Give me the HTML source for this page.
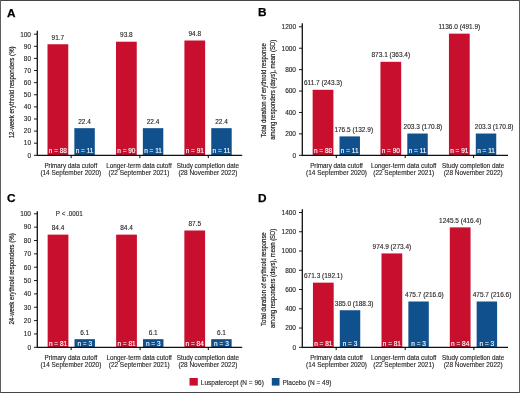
<!DOCTYPE html>
<html><head><meta charset="utf-8"><style>
html,body{margin:0;padding:0;background:#fff;width:520px;height:393px;overflow:hidden;}
svg{display:block;will-change:transform;}
text{font-family:"Liberation Sans", sans-serif;}
</style></head><body>
<svg width="520" height="393" viewBox="0 0 520 393" font-family="Liberation Sans, sans-serif">
<rect x="0" y="0" width="520" height="393" fill="#fff"/>
<text x="7" y="16.6" font-size="11.8" font-weight="bold" fill="#000" stroke="#000" stroke-width="0.25">A</text>
<rect x="47.5" y="44.25" width="20.75" height="111.05" fill="#c8102e"/>
<rect x="74.35" y="128.17" width="20.45" height="27.13" fill="#0f508d"/>
<text x="57.88" y="39.75" font-size="6.5" text-anchor="middle" fill="#231f20" stroke="#231f20" stroke-width="0.12">91.7</text>
<text x="84.58" y="123.67" font-size="6.5" text-anchor="middle" fill="#231f20" stroke="#231f20" stroke-width="0.12">22.4</text>
<text x="57.88" y="153" font-size="6.5" text-anchor="middle" fill="#fff" stroke="#fff" stroke-width="0.12">n = 88</text>
<text x="84.58" y="153" font-size="6.5" text-anchor="middle" fill="#fff" stroke="#fff" stroke-width="0.12">n = 11</text>
<rect x="116" y="41.71" width="20.75" height="113.59" fill="#c8102e"/>
<rect x="142.85" y="128.17" width="20.45" height="27.13" fill="#0f508d"/>
<text x="126.38" y="37.21" font-size="6.5" text-anchor="middle" fill="#231f20" stroke="#231f20" stroke-width="0.12">93.8</text>
<text x="153.07" y="123.67" font-size="6.5" text-anchor="middle" fill="#231f20" stroke="#231f20" stroke-width="0.12">22.4</text>
<text x="126.38" y="153" font-size="6.5" text-anchor="middle" fill="#fff" stroke="#fff" stroke-width="0.12">n = 90</text>
<text x="153.07" y="153" font-size="6.5" text-anchor="middle" fill="#fff" stroke="#fff" stroke-width="0.12">n = 11</text>
<rect x="184.4" y="40.5" width="20.75" height="114.8" fill="#c8102e"/>
<rect x="211.25" y="128.17" width="20.45" height="27.13" fill="#0f508d"/>
<text x="194.78" y="36" font-size="6.5" text-anchor="middle" fill="#231f20" stroke="#231f20" stroke-width="0.12">94.8</text>
<text x="221.48" y="123.67" font-size="6.5" text-anchor="middle" fill="#231f20" stroke="#231f20" stroke-width="0.12">22.4</text>
<text x="194.78" y="153" font-size="6.5" text-anchor="middle" fill="#fff" stroke="#fff" stroke-width="0.12">n = 91</text>
<text x="221.48" y="153" font-size="6.5" text-anchor="middle" fill="#fff" stroke="#fff" stroke-width="0.12">n = 11</text>
<path d="M37.3 30.8V155.3H242.2" fill="none" stroke="#111" stroke-width="1.3"/>
<path d="M34 155.3H37" stroke="#000" stroke-width="0.9"/>
<text x="31" y="157.6" font-size="6.5" text-anchor="end" fill="#231f20" stroke="#231f20" stroke-width="0.12">0</text>
<path d="M34 143.19H37" stroke="#000" stroke-width="0.9"/>
<text x="31" y="145.49" font-size="6.5" text-anchor="end" fill="#231f20" stroke="#231f20" stroke-width="0.12">10</text>
<path d="M34 131.08H37" stroke="#000" stroke-width="0.9"/>
<text x="31" y="133.38" font-size="6.5" text-anchor="end" fill="#231f20" stroke="#231f20" stroke-width="0.12">20</text>
<path d="M34 118.97H37" stroke="#000" stroke-width="0.9"/>
<text x="31" y="121.27" font-size="6.5" text-anchor="end" fill="#231f20" stroke="#231f20" stroke-width="0.12">30</text>
<path d="M34 106.86H37" stroke="#000" stroke-width="0.9"/>
<text x="31" y="109.16" font-size="6.5" text-anchor="end" fill="#231f20" stroke="#231f20" stroke-width="0.12">40</text>
<path d="M34 94.75H37" stroke="#000" stroke-width="0.9"/>
<text x="31" y="97.05" font-size="6.5" text-anchor="end" fill="#231f20" stroke="#231f20" stroke-width="0.12">50</text>
<path d="M34 82.64H37" stroke="#000" stroke-width="0.9"/>
<text x="31" y="84.94" font-size="6.5" text-anchor="end" fill="#231f20" stroke="#231f20" stroke-width="0.12">60</text>
<path d="M34 70.53H37" stroke="#000" stroke-width="0.9"/>
<text x="31" y="72.83" font-size="6.5" text-anchor="end" fill="#231f20" stroke="#231f20" stroke-width="0.12">70</text>
<path d="M34 58.42H37" stroke="#000" stroke-width="0.9"/>
<text x="31" y="60.72" font-size="6.5" text-anchor="end" fill="#231f20" stroke="#231f20" stroke-width="0.12">80</text>
<path d="M34 46.31H37" stroke="#000" stroke-width="0.9"/>
<text x="31" y="48.61" font-size="6.5" text-anchor="end" fill="#231f20" stroke="#231f20" stroke-width="0.12">90</text>
<path d="M34 34.2H37" stroke="#000" stroke-width="0.9"/>
<text x="31" y="36.5" font-size="6.5" text-anchor="end" fill="#231f20" stroke="#231f20" stroke-width="0.12">100</text>
<path d="M71.15 155.3V158.1" stroke="#000" stroke-width="1"/>
<path d="M139.9 155.3V158.1" stroke="#000" stroke-width="1"/>
<path d="M208.3 155.3V158.1" stroke="#000" stroke-width="1"/>
<text x="70.8" y="167.9" font-size="6.3" text-anchor="middle" fill="#231f20" stroke="#231f20" stroke-width="0.12">Primary data cutoff</text>
<text x="70.8" y="175.4" font-size="6.45" text-anchor="middle" fill="#231f20" stroke="#231f20" stroke-width="0.12">(14 September 2020)</text>
<text x="139" y="167.9" font-size="6.3" text-anchor="middle" fill="#231f20" stroke="#231f20" stroke-width="0.12">Longer-term data cutoff</text>
<text x="139" y="175.4" font-size="6.45" text-anchor="middle" fill="#231f20" stroke="#231f20" stroke-width="0.12">(22 September 2021)</text>
<text x="207.9" y="167.9" font-size="6.3" text-anchor="middle" fill="#231f20" stroke="#231f20" stroke-width="0.12">Study completion date</text>
<text x="207.9" y="175.4" font-size="6.45" text-anchor="middle" fill="#231f20" stroke="#231f20" stroke-width="0.12">(28 November 2022)</text>
<text transform="translate(13.8 92.35) rotate(-90)" x="0" y="0" font-size="7.8" text-anchor="middle" fill="#231f20" stroke="#231f20" stroke-width="0.2" textLength="91.9" lengthAdjust="spacingAndGlyphs">12-week erythroid responders (%)</text>
<text x="258" y="16.4" font-size="11.8" font-weight="bold" fill="#000" stroke="#000" stroke-width="0.25">B</text>
<rect x="312.65" y="89.8" width="20.75" height="65.5" fill="#c8102e"/>
<rect x="339.5" y="136.4" width="20.45" height="18.9" fill="#0f508d"/>
<text x="323.03" y="85.3" font-size="6.5" text-anchor="middle" fill="#231f20" stroke="#231f20" stroke-width="0.12">611.7 (243.3)</text>
<text x="334.4" y="131.9" font-size="6.5" text-anchor="start" fill="#231f20" stroke="#231f20" stroke-width="0.12">176.5 (132.9)</text>
<text x="323.03" y="153" font-size="6.5" text-anchor="middle" fill="#fff" stroke="#fff" stroke-width="0.12">n = 88</text>
<text x="349.73" y="153" font-size="6.5" text-anchor="middle" fill="#fff" stroke="#fff" stroke-width="0.12">n = 11</text>
<rect x="380.45" y="61.81" width="20.75" height="93.49" fill="#c8102e"/>
<rect x="407.3" y="133.53" width="20.45" height="21.77" fill="#0f508d"/>
<text x="390.83" y="57.31" font-size="6.5" text-anchor="middle" fill="#231f20" stroke="#231f20" stroke-width="0.12">873.1 (363.4)</text>
<text x="403.6" y="129.03" font-size="6.5" text-anchor="start" fill="#231f20" stroke="#231f20" stroke-width="0.12">203.3 (170.8)</text>
<text x="390.83" y="153" font-size="6.5" text-anchor="middle" fill="#fff" stroke="#fff" stroke-width="0.12">n = 90</text>
<text x="417.52" y="153" font-size="6.5" text-anchor="middle" fill="#fff" stroke="#fff" stroke-width="0.12">n = 11</text>
<rect x="448.95" y="33.65" width="20.75" height="121.65" fill="#c8102e"/>
<rect x="475.8" y="133.53" width="20.45" height="21.77" fill="#0f508d"/>
<text x="459.33" y="29.15" font-size="6.5" text-anchor="middle" fill="#231f20" stroke="#231f20" stroke-width="0.12">1136.0 (491.9)</text>
<text x="474.8" y="129.03" font-size="6.5" text-anchor="start" fill="#231f20" stroke="#231f20" stroke-width="0.12">203.3 (170.8)</text>
<text x="459.33" y="153" font-size="6.5" text-anchor="middle" fill="#fff" stroke="#fff" stroke-width="0.12">n = 91</text>
<text x="486.02" y="153" font-size="6.5" text-anchor="middle" fill="#fff" stroke="#fff" stroke-width="0.12">n = 11</text>
<path d="M302.3 23.2V155.3H508" fill="none" stroke="#111" stroke-width="1.3"/>
<path d="M299 155.3H302" stroke="#000" stroke-width="0.9"/>
<text x="296" y="157.6" font-size="6.5" text-anchor="end" fill="#231f20" stroke="#231f20" stroke-width="0.12">0</text>
<path d="M299 133.88H302" stroke="#000" stroke-width="0.9"/>
<text x="296" y="136.18" font-size="6.5" text-anchor="end" fill="#231f20" stroke="#231f20" stroke-width="0.12">200</text>
<path d="M299 112.47H302" stroke="#000" stroke-width="0.9"/>
<text x="296" y="114.77" font-size="6.5" text-anchor="end" fill="#231f20" stroke="#231f20" stroke-width="0.12">400</text>
<path d="M299 91.05H302" stroke="#000" stroke-width="0.9"/>
<text x="296" y="93.35" font-size="6.5" text-anchor="end" fill="#231f20" stroke="#231f20" stroke-width="0.12">600</text>
<path d="M299 69.63H302" stroke="#000" stroke-width="0.9"/>
<text x="296" y="71.93" font-size="6.5" text-anchor="end" fill="#231f20" stroke="#231f20" stroke-width="0.12">800</text>
<path d="M299 48.22H302" stroke="#000" stroke-width="0.9"/>
<text x="296" y="50.52" font-size="6.5" text-anchor="end" fill="#231f20" stroke="#231f20" stroke-width="0.12">1000</text>
<path d="M299 26.8H302" stroke="#000" stroke-width="0.9"/>
<text x="296" y="29.1" font-size="6.5" text-anchor="end" fill="#231f20" stroke="#231f20" stroke-width="0.12">1200</text>
<path d="M336.3 155.3V158.1" stroke="#000" stroke-width="1"/>
<path d="M405.2 155.3V158.1" stroke="#000" stroke-width="1"/>
<path d="M473.6 155.3V158.1" stroke="#000" stroke-width="1"/>
<text x="336.5" y="167.9" font-size="6.3" text-anchor="middle" fill="#231f20" stroke="#231f20" stroke-width="0.12">Primary data cutoff</text>
<text x="336.5" y="175.4" font-size="6.45" text-anchor="middle" fill="#231f20" stroke="#231f20" stroke-width="0.12">(14 September 2020)</text>
<text x="403.7" y="167.9" font-size="6.3" text-anchor="middle" fill="#231f20" stroke="#231f20" stroke-width="0.12">Longer-term data cutoff</text>
<text x="403.7" y="175.4" font-size="6.45" text-anchor="middle" fill="#231f20" stroke="#231f20" stroke-width="0.12">(22 September 2021)</text>
<text x="473.2" y="167.9" font-size="6.3" text-anchor="middle" fill="#231f20" stroke="#231f20" stroke-width="0.12">Study completion date</text>
<text x="473.2" y="175.4" font-size="6.45" text-anchor="middle" fill="#231f20" stroke="#231f20" stroke-width="0.12">(28 November 2022)</text>
<text transform="translate(265.6 90.35) rotate(-90)" x="0" y="0" font-size="7.8" text-anchor="middle" fill="#231f20" stroke="#231f20" stroke-width="0.2" textLength="94.3" lengthAdjust="spacingAndGlyphs">Total duration of erythroid response</text>
<text transform="translate(274.8 89.75) rotate(-90)" x="0" y="0" font-size="7.8" text-anchor="middle" fill="#231f20" stroke="#231f20" stroke-width="0.2" textLength="100.1" lengthAdjust="spacingAndGlyphs">among responders (days), mean (SD)</text>
<text x="7" y="202.1" font-size="11.8" font-weight="bold" fill="#000" stroke="#000" stroke-width="0.25">C</text>
<rect x="47.65" y="234.63" width="20.75" height="112.67" fill="#c8102e"/>
<rect x="74.5" y="339.16" width="20.45" height="8.14" fill="#0f508d"/>
<text x="58.02" y="230.13" font-size="6.5" text-anchor="middle" fill="#231f20" stroke="#231f20" stroke-width="0.12">84.4</text>
<text x="84.72" y="334.66" font-size="6.5" text-anchor="middle" fill="#231f20" stroke="#231f20" stroke-width="0.12">6.1</text>
<text x="58.02" y="345.7" font-size="6.5" text-anchor="middle" fill="#fff" stroke="#fff" stroke-width="0.12">n = 81</text>
<text x="84.72" y="345.7" font-size="6.5" text-anchor="middle" fill="#fff" stroke="#fff" stroke-width="0.12">n = 3</text>
<rect x="116.15" y="234.63" width="20.75" height="112.67" fill="#c8102e"/>
<rect x="143" y="339.16" width="20.45" height="8.14" fill="#0f508d"/>
<text x="126.53" y="230.13" font-size="6.5" text-anchor="middle" fill="#231f20" stroke="#231f20" stroke-width="0.12">84.4</text>
<text x="153.23" y="334.66" font-size="6.5" text-anchor="middle" fill="#231f20" stroke="#231f20" stroke-width="0.12">6.1</text>
<text x="126.53" y="345.7" font-size="6.5" text-anchor="middle" fill="#fff" stroke="#fff" stroke-width="0.12">n = 81</text>
<text x="153.23" y="345.7" font-size="6.5" text-anchor="middle" fill="#fff" stroke="#fff" stroke-width="0.12">n = 3</text>
<rect x="184.35" y="230.49" width="20.75" height="116.81" fill="#c8102e"/>
<rect x="211.2" y="339.16" width="20.45" height="8.14" fill="#0f508d"/>
<text x="194.72" y="225.99" font-size="6.5" text-anchor="middle" fill="#231f20" stroke="#231f20" stroke-width="0.12">87.5</text>
<text x="221.43" y="334.66" font-size="6.5" text-anchor="middle" fill="#231f20" stroke="#231f20" stroke-width="0.12">6.1</text>
<text x="194.72" y="345.7" font-size="6.5" text-anchor="middle" fill="#fff" stroke="#fff" stroke-width="0.12">n = 84</text>
<text x="221.43" y="345.7" font-size="6.5" text-anchor="middle" fill="#fff" stroke="#fff" stroke-width="0.12">n = 3</text>
<path d="M37.3 211.2V347.3H242.2" fill="none" stroke="#111" stroke-width="1.3"/>
<path d="M34 347.3H37" stroke="#000" stroke-width="0.9"/>
<text x="31" y="349.6" font-size="6.5" text-anchor="end" fill="#231f20" stroke="#231f20" stroke-width="0.12">0</text>
<path d="M34 333.95H37" stroke="#000" stroke-width="0.9"/>
<text x="31" y="336.25" font-size="6.5" text-anchor="end" fill="#231f20" stroke="#231f20" stroke-width="0.12">10</text>
<path d="M34 320.6H37" stroke="#000" stroke-width="0.9"/>
<text x="31" y="322.9" font-size="6.5" text-anchor="end" fill="#231f20" stroke="#231f20" stroke-width="0.12">20</text>
<path d="M34 307.25H37" stroke="#000" stroke-width="0.9"/>
<text x="31" y="309.55" font-size="6.5" text-anchor="end" fill="#231f20" stroke="#231f20" stroke-width="0.12">30</text>
<path d="M34 293.9H37" stroke="#000" stroke-width="0.9"/>
<text x="31" y="296.2" font-size="6.5" text-anchor="end" fill="#231f20" stroke="#231f20" stroke-width="0.12">40</text>
<path d="M34 280.55H37" stroke="#000" stroke-width="0.9"/>
<text x="31" y="282.85" font-size="6.5" text-anchor="end" fill="#231f20" stroke="#231f20" stroke-width="0.12">50</text>
<path d="M34 267.2H37" stroke="#000" stroke-width="0.9"/>
<text x="31" y="269.5" font-size="6.5" text-anchor="end" fill="#231f20" stroke="#231f20" stroke-width="0.12">60</text>
<path d="M34 253.85H37" stroke="#000" stroke-width="0.9"/>
<text x="31" y="256.15" font-size="6.5" text-anchor="end" fill="#231f20" stroke="#231f20" stroke-width="0.12">70</text>
<path d="M34 240.5H37" stroke="#000" stroke-width="0.9"/>
<text x="31" y="242.8" font-size="6.5" text-anchor="end" fill="#231f20" stroke="#231f20" stroke-width="0.12">80</text>
<path d="M34 227.15H37" stroke="#000" stroke-width="0.9"/>
<text x="31" y="229.45" font-size="6.5" text-anchor="end" fill="#231f20" stroke="#231f20" stroke-width="0.12">90</text>
<path d="M34 213.8H37" stroke="#000" stroke-width="0.9"/>
<text x="31" y="216.1" font-size="6.5" text-anchor="end" fill="#231f20" stroke="#231f20" stroke-width="0.12">100</text>
<path d="M71.15 347.3V350.1" stroke="#000" stroke-width="1"/>
<path d="M140.1 347.3V350.1" stroke="#000" stroke-width="1"/>
<path d="M208.3 347.3V350.1" stroke="#000" stroke-width="1"/>
<text x="70.9" y="359.9" font-size="6.3" text-anchor="middle" fill="#231f20" stroke="#231f20" stroke-width="0.12">Primary data cutoff</text>
<text x="70.9" y="367.4" font-size="6.45" text-anchor="middle" fill="#231f20" stroke="#231f20" stroke-width="0.12">(14 September 2020)</text>
<text x="139.2" y="359.9" font-size="6.3" text-anchor="middle" fill="#231f20" stroke="#231f20" stroke-width="0.12">Longer-term data cutoff</text>
<text x="139.2" y="367.4" font-size="6.45" text-anchor="middle" fill="#231f20" stroke="#231f20" stroke-width="0.12">(22 September 2021)</text>
<text x="207.9" y="359.9" font-size="6.3" text-anchor="middle" fill="#231f20" stroke="#231f20" stroke-width="0.12">Study completion date</text>
<text x="207.9" y="367.4" font-size="6.45" text-anchor="middle" fill="#231f20" stroke="#231f20" stroke-width="0.12">(28 November 2022)</text>
<text transform="translate(13.8 278.9) rotate(-90)" x="0" y="0" font-size="7.8" text-anchor="middle" fill="#231f20" stroke="#231f20" stroke-width="0.2" textLength="91.3" lengthAdjust="spacingAndGlyphs">24-week erythroid responders (%)</text>
<text x="55.8" y="216.2" font-size="6.3" fill="#231f20" stroke="#231f20" stroke-width="0.12">P &lt; .0001</text>
<text x="258" y="202" font-size="11.8" font-weight="bold" fill="#000" stroke="#000" stroke-width="0.25">D</text>
<rect x="312.95" y="282.66" width="20.75" height="64.64" fill="#c8102e"/>
<rect x="339.8" y="310.23" width="20.45" height="37.07" fill="#0f508d"/>
<text x="323.33" y="278.16" font-size="6.5" text-anchor="middle" fill="#231f20" stroke="#231f20" stroke-width="0.12">671.3 (192.1)</text>
<text x="334.8" y="305.73" font-size="6.5" text-anchor="start" fill="#231f20" stroke="#231f20" stroke-width="0.12">385.0 (188.3)</text>
<text x="323.33" y="345.7" font-size="6.5" text-anchor="middle" fill="#fff" stroke="#fff" stroke-width="0.12">n = 81</text>
<text x="350.02" y="345.7" font-size="6.5" text-anchor="middle" fill="#fff" stroke="#fff" stroke-width="0.12">n = 3</text>
<rect x="381.5" y="253.43" width="20.75" height="93.87" fill="#c8102e"/>
<rect x="408.35" y="301.5" width="20.45" height="45.8" fill="#0f508d"/>
<text x="391.88" y="248.93" font-size="6.5" text-anchor="middle" fill="#231f20" stroke="#231f20" stroke-width="0.12">974.9 (273.4)</text>
<text x="405.1" y="297" font-size="6.5" text-anchor="start" fill="#231f20" stroke="#231f20" stroke-width="0.12">475.7 (216.6)</text>
<text x="391.88" y="345.7" font-size="6.5" text-anchor="middle" fill="#fff" stroke="#fff" stroke-width="0.12">n = 81</text>
<text x="418.57" y="345.7" font-size="6.5" text-anchor="middle" fill="#fff" stroke="#fff" stroke-width="0.12">n = 3</text>
<rect x="449.8" y="227.38" width="20.75" height="119.92" fill="#c8102e"/>
<rect x="476.65" y="301.5" width="20.45" height="45.8" fill="#0f508d"/>
<text x="460.18" y="222.88" font-size="6.5" text-anchor="middle" fill="#231f20" stroke="#231f20" stroke-width="0.12">1245.5 (416.4)</text>
<text x="472.7" y="297" font-size="6.5" text-anchor="start" fill="#231f20" stroke="#231f20" stroke-width="0.12">475.7 (216.6)</text>
<text x="460.18" y="345.7" font-size="6.5" text-anchor="middle" fill="#fff" stroke="#fff" stroke-width="0.12">n = 84</text>
<text x="486.88" y="345.7" font-size="6.5" text-anchor="middle" fill="#fff" stroke="#fff" stroke-width="0.12">n = 3</text>
<path d="M302.3 209.2V347.3H508" fill="none" stroke="#111" stroke-width="1.3"/>
<path d="M299 347.3H302" stroke="#000" stroke-width="0.9"/>
<text x="296" y="349.6" font-size="6.5" text-anchor="end" fill="#231f20" stroke="#231f20" stroke-width="0.12">0</text>
<path d="M299 328.04H302" stroke="#000" stroke-width="0.9"/>
<text x="296" y="330.34" font-size="6.5" text-anchor="end" fill="#231f20" stroke="#231f20" stroke-width="0.12">200</text>
<path d="M299 308.79H302" stroke="#000" stroke-width="0.9"/>
<text x="296" y="311.09" font-size="6.5" text-anchor="end" fill="#231f20" stroke="#231f20" stroke-width="0.12">400</text>
<path d="M299 289.53H302" stroke="#000" stroke-width="0.9"/>
<text x="296" y="291.83" font-size="6.5" text-anchor="end" fill="#231f20" stroke="#231f20" stroke-width="0.12">600</text>
<path d="M299 270.27H302" stroke="#000" stroke-width="0.9"/>
<text x="296" y="272.57" font-size="6.5" text-anchor="end" fill="#231f20" stroke="#231f20" stroke-width="0.12">800</text>
<path d="M299 251.01H302" stroke="#000" stroke-width="0.9"/>
<text x="296" y="253.31" font-size="6.5" text-anchor="end" fill="#231f20" stroke="#231f20" stroke-width="0.12">1000</text>
<path d="M299 231.76H302" stroke="#000" stroke-width="0.9"/>
<text x="296" y="234.06" font-size="6.5" text-anchor="end" fill="#231f20" stroke="#231f20" stroke-width="0.12">1200</text>
<path d="M299 212.5H302" stroke="#000" stroke-width="0.9"/>
<text x="296" y="214.8" font-size="6.5" text-anchor="end" fill="#231f20" stroke="#231f20" stroke-width="0.12">1400</text>
<path d="M336.2 347.3V350.1" stroke="#000" stroke-width="1"/>
<path d="M405.2 347.3V350.1" stroke="#000" stroke-width="1"/>
<path d="M473.9 347.3V350.1" stroke="#000" stroke-width="1"/>
<text x="336.5" y="359.9" font-size="6.3" text-anchor="middle" fill="#231f20" stroke="#231f20" stroke-width="0.12">Primary data cutoff</text>
<text x="336.5" y="367.4" font-size="6.45" text-anchor="middle" fill="#231f20" stroke="#231f20" stroke-width="0.12">(14 September 2020)</text>
<text x="403.7" y="359.9" font-size="6.3" text-anchor="middle" fill="#231f20" stroke="#231f20" stroke-width="0.12">Longer-term data cutoff</text>
<text x="403.7" y="367.4" font-size="6.45" text-anchor="middle" fill="#231f20" stroke="#231f20" stroke-width="0.12">(22 September 2021)</text>
<text x="473.2" y="359.9" font-size="6.3" text-anchor="middle" fill="#231f20" stroke="#231f20" stroke-width="0.12">Study completion date</text>
<text x="473.2" y="367.4" font-size="6.45" text-anchor="middle" fill="#231f20" stroke="#231f20" stroke-width="0.12">(28 November 2022)</text>
<text transform="translate(265.6 279.1) rotate(-90)" x="0" y="0" font-size="7.8" text-anchor="middle" fill="#231f20" stroke="#231f20" stroke-width="0.2" textLength="93.6" lengthAdjust="spacingAndGlyphs">Total duration of erythroid response</text>
<text transform="translate(274.8 278.35) rotate(-90)" x="0" y="0" font-size="7.8" text-anchor="middle" fill="#231f20" stroke="#231f20" stroke-width="0.2" textLength="99.3" lengthAdjust="spacingAndGlyphs">among responders (days), mean (SD)</text>
<rect x="189.5" y="378" width="8.3" height="7.6" fill="#c8102e"/>
<text x="200.8" y="384.5" font-size="6.5" fill="#231f20" stroke="#231f20" stroke-width="0.12">Luspatercept (N = 96)</text>
<rect x="271.8" y="378" width="7.7" height="7.6" fill="#0f508d"/>
<text x="282.5" y="384.5" font-size="6.5" fill="#231f20" stroke="#231f20" stroke-width="0.12">Placebo (N = 49)</text>
<rect x="0" y="0" width="520" height="1" fill="#444"/><rect x="0" y="392" width="520" height="1" fill="#444"/><rect x="0" y="0" width="1" height="393" fill="#5e5e5e"/><rect x="519" y="0" width="1" height="393" fill="#5e5e5e"/>
</svg>
</body></html>
